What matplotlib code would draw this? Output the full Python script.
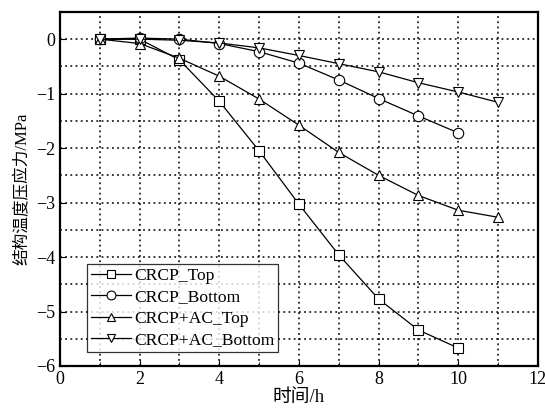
import matplotlib
matplotlib.use('Agg')
from matplotlib import pyplot as plt

plt.rcParams['font.family'] = ['Liberation Serif', 'Noto Sans CJK SC']
plt.rcParams['axes.unicode_minus'] = True

# data
hours = [1, 2, 3, 4, 5, 6, 7, 8, 9, 10]
hours_ac = [1, 2, 3, 4, 5, 6, 7, 8, 9, 10, 11]
crcp_top = [0, 0.0, -0.38, -1.14, -2.05, -3.03, -3.96, -4.77, -5.34, -5.67]
crcp_bottom = [0, 0.02, 0.0, -0.08, -0.23, -0.44, -0.75, -1.09, -1.41, -1.72]
ac_top = [0, -0.08, -0.35, -0.68, -1.1, -1.58, -2.08, -2.5, -2.87, -3.14, -3.27]
ac_bottom = [0, 0.0, -0.02, -0.07, -0.16, -0.3, -0.45, -0.6, -0.8, -0.97, -1.16]

fig = plt.figure(figsize=(5.45, 4.11), dpi=100)
ax = fig.add_axes([0.110, 0.1095, 0.877, 0.8615])

style = dict(color='black', lw=0.9, markersize=7.5, markerfacecolor='white',
             markeredgecolor='black', markeredgewidth=0.8)
ax.plot(hours, crcp_top, marker='s', label='CRCP_Top', **style)
ax.plot(hours, crcp_bottom, marker='o', label='CRCP_Bottom', **style)
ax.plot(hours_ac, ac_top, marker='^', label='CRCP+AC_Top', **style)
ax.plot(hours_ac, ac_bottom, marker='v', label='CRCP+AC_Bottom', **style)

ax.set_xlim(0, 12)
ax.set_ylim(-6, 0.5)
ax.set_xticks(range(0, 13, 2))
ax.set_xticks(range(0, 13), minor=True)
ax.set_yticks(range(-6, 1))
ax.set_yticks([-5.5, -4.5, -3.5, -2.5, -1.5, -0.5], minor=True)
ax.grid(True, which='both', color='black', linestyle=(0, (1.2, 2.2)), lw=1.1)
ax.tick_params(axis='both', which='major', direction='in', labelsize=13, length=4)
ax.tick_params(axis='x', which='minor', direction='in', length=3)
ax.tick_params(axis='y', which='minor', length=0)
for s in ax.spines.values():
    s.set_linewidth(1.6)

ax.set_xlabel('时间/h', fontsize=13.5, labelpad=1)
ax.set_ylabel('结构温度压应力/MPa', fontsize=12, labelpad=4)

leg = ax.legend(loc='lower left', bbox_to_anchor=(0.057, 0.04), fontsize=12.6,
                frameon=True, fancybox=False, edgecolor='black',
                handlelength=2.3, borderpad=0.2, labelspacing=0.3,
                handletextpad=0.2, borderaxespad=0, markerscale=0.85)
leg.get_frame().set_linewidth(0.9)

plt.savefig('out.png', dpi=100)
